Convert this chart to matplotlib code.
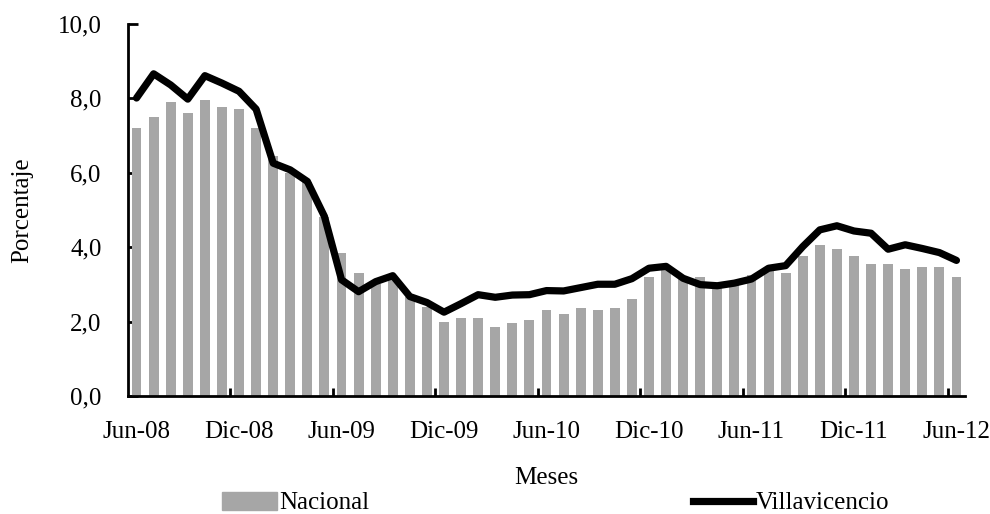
import matplotlib
matplotlib.use("Agg")
import matplotlib.pyplot as plt
from matplotlib.patches import Patch
from matplotlib.lines import Line2D
from matplotlib.ticker import FuncFormatter

plt.rcParams["font.family"] = ["Liberation Serif", "DejaVu Serif"]
plt.rcParams["font.size"] = 18

# ── Data (monthly, Jun-08 .. Jun-12) ─────────────────────────────
month_labels = ["Jun-08", "Dic-08", "Jun-09", "Dic-09", "Jun-10",
                "Dic-10", "Jun-11", "Dic-11", "Jun-12"]

nacional = [7.2, 7.5, 7.9, 7.6, 7.95, 7.75, 7.7, 7.2, 6.45, 6.0,
            5.75, 4.8, 3.85, 3.3, 3.0, 3.2, 2.65, 2.4, 2.0, 2.1,
            2.1, 1.85, 1.95, 2.05, 2.3, 2.2, 2.35, 2.3, 2.35, 2.6,
            3.2, 3.4, 3.2, 3.2, 2.95, 3.05, 3.25, 3.35, 3.3, 3.75,
            4.05, 3.95, 3.75, 3.55, 3.55, 3.4, 3.45, 3.45, 3.2]

villavicencio = [8.0, 8.65, 8.35, 7.97, 8.6, 8.4, 8.18, 7.7, 6.25, 6.07,
                 5.76, 4.82, 3.12, 2.8, 3.07, 3.23, 2.67, 2.51, 2.25, 2.48,
                 2.72, 2.65, 2.71, 2.72, 2.83, 2.82, 2.91, 3.0, 3.0, 3.15,
                 3.43, 3.48, 3.16, 2.99, 2.96, 3.03, 3.14, 3.43, 3.5, 4.01,
                 4.46, 4.57, 4.43, 4.37, 3.94, 4.06, 3.96, 3.85, 3.64]

BAR_COLOR  = "#A6A6A6"
LINE_COLOR = "#000000"

n = len(nacional)
x = list(range(n))

fig = plt.figure(figsize=(9.9, 5.14), dpi=100)
ax = fig.add_axes([128/990, 1 - 396/514, (965 - 128)/990, (396 - 23.5)/514])

ax.bar(x, nacional, width=0.58, color=BAR_COLOR, zorder=2)
ax.plot(x, villavicencio, color=LINE_COLOR, lw=5.2,
        solid_joinstyle="round", solid_capstyle="round", zorder=3)

ax.set_xlim(-0.5, n - 0.5)
ax.set_ylim(0, 10)

# y axis
ax.set_yticks([0, 2, 4, 6, 8, 10])
ax.yaxis.set_major_formatter(FuncFormatter(lambda v, p: f"{v:.1f}".replace(".", ",")))
ax.tick_params(axis="y", direction="in", length=7, width=2, pad=19)

# x axis: labels every 6 months, tick marks at category boundaries
label_pos = list(range(0, n, 6))
ax.set_xticks(label_pos)
ax.set_xticklabels(month_labels)
ax.tick_params(axis="x", which="major", length=0, pad=18)
ax.set_xticks([p + 5.5 for p in label_pos[:-1]], minor=True)
ax.tick_params(axis="x", which="minor", direction="in", length=6, width=2)

for side in ["top", "right"]:
    ax.spines[side].set_visible(False)
for side in ["left", "bottom"]:
    ax.spines[side].set_linewidth(2)

fig.text(22/990, 1 - 210/514, "Porcentaje", rotation=90,
         ha="center", va="center")
fig.text(546/990, 1 - 478/514, "Meses", ha="center", va="center")

# legend, two entries spread across the bottom
fig.legend(handles=[Patch(color=BAR_COLOR, label="Nacional")],
           loc="center left", bbox_to_anchor=(222/990, 1 - 503/514),
           frameon=False, borderpad=0, borderaxespad=0,
           handlelength=2.2, handleheight=0.75, handletextpad=0.1)
fig.legend(handles=[Line2D([], [], color=LINE_COLOR, lw=5.2, label="Villavicencio")],
           loc="center left", bbox_to_anchor=(693/990, 1 - 503/514),
           frameon=False, borderpad=0, borderaxespad=0,
           handlelength=2.4, handletextpad=0.1)

fig.savefig("out.png", dpi=100)
